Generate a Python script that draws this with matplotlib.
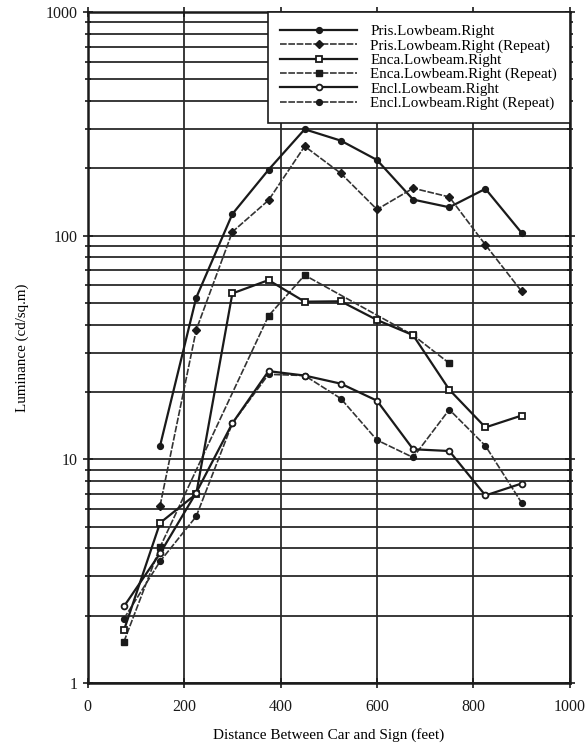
import matplotlib.pyplot as plt
from matplotlib.ticker import FixedLocator, NullFormatter

plt.rcParams['font.family'] = ['Liberation Serif', 'DejaVu Serif']

# distances (feet) and luminance readings (cd/sq.m)
dist_all = [75, 150, 225, 300, 375, 450, 525, 600, 675, 750, 825, 900]
dist_pris = [150, 225, 300, 375, 450, 525, 600, 675, 750, 825, 900]
dist_enca_rep = [75, 150, 375, 450, 675, 750]

pris = [11.5, 52.8, 125, 197, 299, 266, 218, 145, 134, 162, 103]
pris_rep = [6.2, 37.9, 104, 144, 251, 190, 131, 163, 149, 91, 56.4]
enca = [1.72, 5.2, 7.0, 55.2, 63.3, 50.7, 50.9, 42.0, 35.9, 20.5, 13.9, 15.7]
enca_rep = [1.53, 4.05, 43.8, 66.6, 35.9, 26.9]
encl = [2.2, 3.8, 7.1, 14.5, 24.8, 23.7, 21.8, 18.3, 11.1, 10.9, 6.9, 7.8]
encl_rep = [1.94, 3.5, 5.56, 14.5, 24.0, 23.7, 18.7, 12.2, 10.2, 16.7, 11.5, 6.4]

fig = plt.figure(figsize=(5.85, 7.49), dpi=100)
ax = fig.add_axes([0.150, 0.088, 0.824, 0.896])

solid = dict(color='#1a1a1a', lw=1.6, ms=4.2)
dashed = dict(color='#333333', lw=1.2, ms=4.2, ls=(0, (4, 1.0)))

ax.plot(dist_pris, pris, marker='o', mfc='#1a1a1a', mec='#1a1a1a',
        label='Pris.Lowbeam.Right', zorder=5, **solid)
ax.plot(dist_pris, pris_rep, marker='D', mfc='#1a1a1a', mec='#1a1a1a',
        label='Pris.Lowbeam.Right (Repeat)', zorder=5, **dashed)
ax.plot(dist_all, enca, marker='s', mfc='white', mec='#1a1a1a', mew=1.3,
        label='Enca.Lowbeam.Right', zorder=6, **solid)
ax.plot(dist_enca_rep, enca_rep, marker='s', mfc='#1a1a1a', mec='#1a1a1a',
        label='Enca.Lowbeam.Right (Repeat)', zorder=5, **dashed)
ax.plot(dist_all, encl, marker='o', mfc='white', mec='#1a1a1a', mew=1.3,
        label='Encl.Lowbeam.Right', zorder=6, **solid)
ax.plot(dist_all, encl_rep, marker='o', mfc='#1a1a1a', mec='#1a1a1a',
        label='Encl.Lowbeam.Right (Repeat)', zorder=5, **dashed)

ax.set_yscale('log')
ax.set_xlim(0, 1000)
ax.set_ylim(1, 1000)

ax.set_xticks([0, 200, 400, 600, 800, 1000])
ax.yaxis.set_major_locator(FixedLocator([1, 10, 100, 1000]))
ax.set_yticklabels(['1', '10', '100', '1000'])
minor = [m * 10 ** e for e in range(3) for m in range(2, 10)]
ax.yaxis.set_minor_locator(FixedLocator(minor))
ax.yaxis.set_minor_formatter(NullFormatter())

# heavy grid: every decade subdivision horizontally, 200 ft vertically
ax.grid(True, which='both', axis='y', color='#2a2a2a', lw=1.3)
ax.grid(True, which='major', axis='x', color='#2a2a2a', lw=1.3)

ax.tick_params(which='both', direction='inout', top=True, right=True,
               labelsize=11.5, colors='#1a1a1a', width=1.2)
ax.tick_params(which='major', length=7)
ax.tick_params(axis='x', which='major', pad=8)
ax.tick_params(which='minor', length=5)
for s in ax.spines.values():
    s.set_linewidth(1.8)
    s.set_color('#1a1a1a')

ax.set_xlabel('Distance Between Car and Sign (feet)', fontsize=11, labelpad=9)
ax.set_ylabel('Luminance (cd/sq.m)', fontsize=10.8, labelpad=12)

leg = ax.legend(loc='upper right', fontsize=10.8, handlelength=5.1,
                handletextpad=0.9, labelspacing=0.05, borderpad=0.85,
                fancybox=False, framealpha=1, edgecolor='#1a1a1a',
                borderaxespad=0.0)
leg.get_frame().set_linewidth(1.2)
leg.set_zorder(10)

fig.savefig('out.png', dpi=100)
